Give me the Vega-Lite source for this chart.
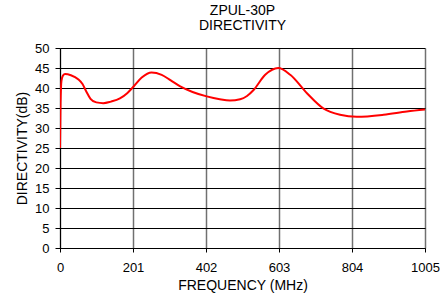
{
  "$schema": "https://vega.github.io/schema/vega-lite/v6.json",
  "width": 365,
  "height": 200,
  "autosize": "none",
  "padding": {"left": 60, "top": 48, "right": 15, "bottom": 47},
  "background": "white",
  "config": {
    "font": "Liberation Sans",
    "view": {"stroke": null}
  },
  "title": {
    "text": ["ZPUL-30P", "DIRECTIVITY"],
    "fontSize": 14,
    "fontWeight": "normal",
    "font": "Liberation Sans",
    "color": "#000000",
    "lineHeight": 15.5,
    "offset": 9,
    "anchor": "middle"
  },
  "data": {
    "values": [
      {"freq": 0, "dir": 25},
      {"freq": 1.5, "dir": 36},
      {"freq": 4, "dir": 41.8},
      {"freq": 8, "dir": 43.1},
      {"freq": 14, "dir": 43.5},
      {"freq": 30, "dir": 43.2},
      {"freq": 50, "dir": 42.2},
      {"freq": 62, "dir": 41},
      {"freq": 72, "dir": 39.2},
      {"freq": 84, "dir": 37.3},
      {"freq": 100, "dir": 36.4},
      {"freq": 119, "dir": 36.2},
      {"freq": 140, "dir": 36.6},
      {"freq": 165, "dir": 37.4},
      {"freq": 185, "dir": 38.7},
      {"freq": 202, "dir": 40.3},
      {"freq": 225, "dir": 42.6},
      {"freq": 252, "dir": 43.9},
      {"freq": 280, "dir": 43.3},
      {"freq": 305, "dir": 41.9},
      {"freq": 331, "dir": 40.4},
      {"freq": 365, "dir": 39},
      {"freq": 404, "dir": 37.9},
      {"freq": 440, "dir": 37.2},
      {"freq": 468, "dir": 36.9},
      {"freq": 496, "dir": 37.2},
      {"freq": 515, "dir": 38},
      {"freq": 533, "dir": 39.5},
      {"freq": 565, "dir": 43.3},
      {"freq": 601, "dir": 45},
      {"freq": 634, "dir": 43.3},
      {"freq": 680, "dir": 38.7},
      {"freq": 725, "dir": 34.9},
      {"freq": 771, "dir": 33.3},
      {"freq": 817, "dir": 32.8},
      {"freq": 891, "dir": 33.3},
      {"freq": 955, "dir": 34.1},
      {"freq": 1005, "dir": 34.6}
    ]
  },
  "mark": {"type": "line", "color": "#ff0000", "strokeWidth": 2, "interpolate": "monotone", "clip": true},
  "encoding": {
    "x": {
      "field": "freq",
      "type": "quantitative",
      "scale": {"domain": [0, 1005], "nice": false, "zero": false},
      "axis": {
        "title": "FREQUENCY (MHz)",
        "values": [0, 201, 402, 603, 804, 1005],
        "format": "d",
        "labelFontSize": 13,
        "labelColor": "#000000",
        "labelPadding": 9,
        "labelFlush": false,
        "tickSize": 4,
        "tickColor": "#000000",
        "domainColor": "#000000",
        "grid": true,
        "gridColor": "#707070",
        "gridWidth": 1.5,
        "gridOpacity": 1,
        "titleFontSize": 14,
        "titleFontWeight": "normal",
        "titleColor": "#000000",
        "titlePadding": 4
      }
    },
    "y": {
      "field": "dir",
      "type": "quantitative",
      "scale": {"domain": [0, 50], "nice": false},
      "axis": {
        "title": "DIRECTIVITY(dB)",
        "values": [0, 5, 10, 15, 20, 25, 30, 35, 40, 45, 50],
        "labelFontSize": 13,
        "labelColor": "#000000",
        "labelPadding": 6,
        "tickSize": 5,
        "tickColor": "#000000",
        "domainColor": "#000000",
        "grid": true,
        "gridColor": "#000000",
        "gridWidth": 1,
        "gridOpacity": 1,
        "titleFontSize": 14,
        "titleFontWeight": "normal",
        "titleColor": "#000000",
        "titlePadding": 5
      }
    }
  }
}
